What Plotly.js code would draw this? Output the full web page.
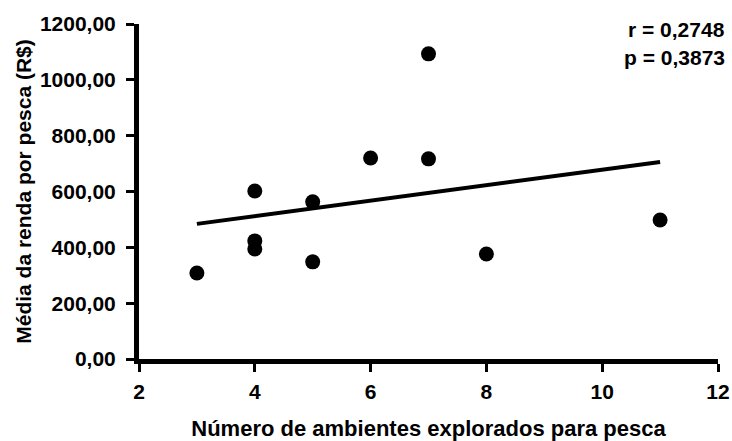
<!DOCTYPE html>
<html>
<head>
<meta charset="utf-8">
<script src="https://cdn.plot.ly/plotly-3.0.1.min.js"></script>
<style>html,body{margin:0;padding:0;background:#fff;}#chart{width:732px;height:441px;}
#chart .xtick text, #chart .ytick text, #chart .xtick tspan, #chart .ytick tspan {font-weight: 700 !important; font-family: "Liberation Sans", Arial, sans-serif !important;}</style>
</head>
<body>
<div id="chart"></div>
<script>
// Data
const ambientes = [3, 4, 4, 4, 5, 5, 6, 7, 7, 8, 11];
const rendaMedia = [308, 602, 423, 394, 563, 348, 720, 1093, 717, 376, 498];
const trendX = [3, 11];
const trendY = [484, 706];
const xTicks = [2, 4, 6, 8, 10, 12];
const yTicks = [0, 200, 400, 600, 800, 1000, 1200];
const statR = "r = 0,2748";
const statP = "p = 0,3873";

const FONT = "Liberation Sans, Arial, sans-serif";
const bold = s => "<b>" + s + "</b>";

const traces = [
  {
    x: trendX, y: trendY, type: "scatter", mode: "lines",
    line: {color: "#000", width: 4}, hoverinfo: "skip", showlegend: false
  },
  {
    x: ambientes, y: rendaMedia, type: "scatter", mode: "markers",
    marker: {color: "#000", size: 15}, showlegend: false
  }
];

const axisCommon = {
  showgrid: false, zeroline: false, showline: true,
  linecolor: "#000", linewidth: 5,
  ticks: "outside", ticklen: 8, tickwidth: 3, tickcolor: "#000",
  tickfont: {family: FONT, size: 21, color: "#000", weight: 700},
  fixedrange: true
};

const layout = {
  width: 732, height: 441,
  margin: {l: 139, r: 14, t: 24, b: 82},
  paper_bgcolor: "#fff", plot_bgcolor: "#fff",
  font: {family: FONT, color: "#000"},
  xaxis: Object.assign({}, axisCommon, {
    range: [2, 12], tickvals: xTicks, ticktext: xTicks.map(v => bold(String(v))),
    ticklabelstandoff: 2,
    title: {text: bold("Número de ambientes explorados para pesca"),
            font: {family: FONT, size: 22, color: "#000"}, standoff: 23}
  }),
  yaxis: Object.assign({}, axisCommon, {
    range: [0, 1200], tickvals: yTicks,
    ticktext: yTicks.map(v => bold(v.toFixed(2).replace(".", ","))),
    ticklabelstandoff: 6,
    title: {text: bold("Média da renda por pesca (R$)"),
            font: {family: FONT, size: 21, color: "#000"}, standoff: 4}
  }),
  annotations: [
    {xref: "paper", yref: "paper", x: 1.0155, y: 0.985, xanchor: "right", yanchor: "middle",
     text: bold(statR), showarrow: false, font: {family: FONT, size: 21, color: "#000"}},
    {xref: "paper", yref: "paper", x: 1.0155, y: 0.899, xanchor: "right", yanchor: "middle",
     text: bold(statP), showarrow: false, font: {family: FONT, size: 21, color: "#000"}}
  ]
};

Plotly.newPlot("chart", traces, layout, {displayModeBar: false, staticPlot: true});
</script>
</body>
</html>
